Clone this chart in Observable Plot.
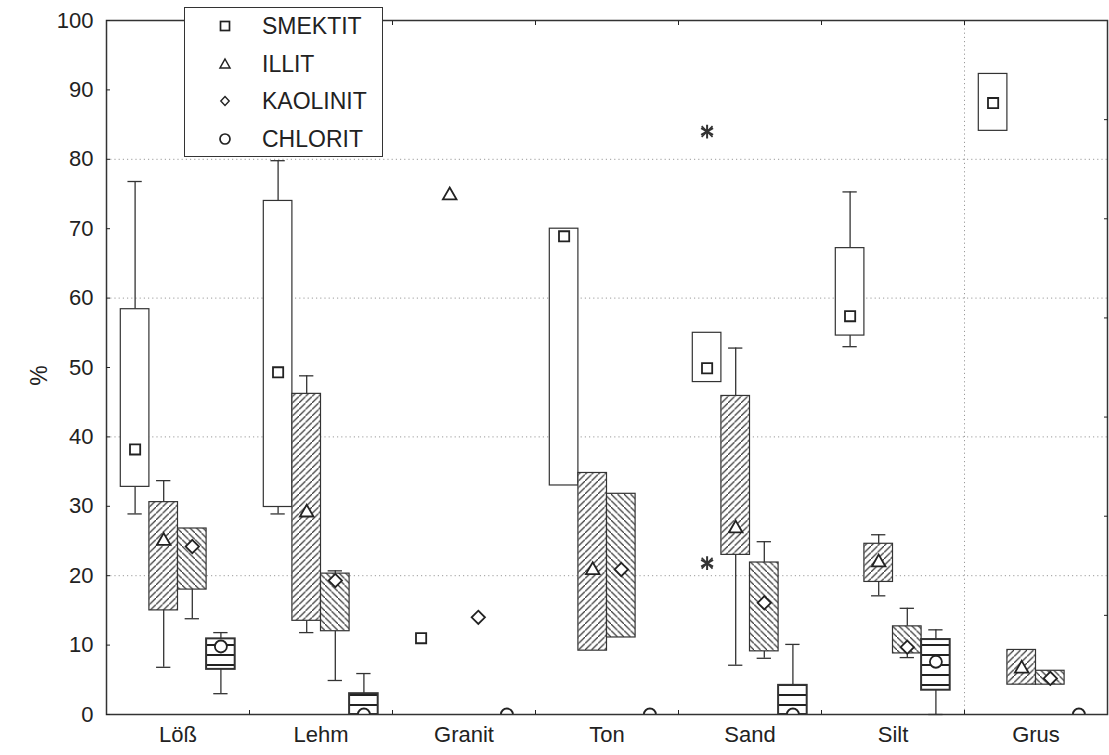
<!DOCTYPE html>
<html>
<head>
<meta charset="utf-8">
<script src="https://cdn.jsdelivr.net/npm/d3@7"></script>
<script src="https://cdn.jsdelivr.net/npm/@observablehq/plot@0.6"></script>
<style>
  body { margin: 0; background: #fff; font-family: "Liberation Sans", Arial, sans-serif; }
  #wrap { position: relative; width: 1109px; height: 755px; overflow: hidden; }
  #legend { position: absolute; left: 184px; top: 7px; width: 199px; height: 150px; background: #fff;
            border: 1.5px solid #333; box-sizing: border-box; }
  #legend .row { position: absolute; left: 0; height: 30px; display: flex; align-items: center; }
  #legend .sym { position: absolute; left: 31px; width: 18px; height: 18px; }
  #legend .lab { position: absolute; left: 77px; font-size: 23px; color: #222; white-space: nowrap; line-height: 30px; }
  #ylab { position: absolute; left: 26px; top: 362px; font-size: 23px; color: #222; transform: rotate(-90deg); transform-origin: center; width: 26px; text-align: center; }
</style>
</head>
<body>
<svg width="0" height="0" style="position:absolute">
  <defs>
    <pattern id="pIllit" patternUnits="userSpaceOnUse" width="6.5" height="6.5">
      <rect width="6.5" height="6.5" fill="#fff"/>
      <path d="M-1,7.5 L7.5,-1 M-4,3.25 L3.25,-4 M3.25,10.5 L10.5,3.25" stroke="#333" stroke-width="1.2"/>
    </pattern>
    <pattern id="pKaol" patternUnits="userSpaceOnUse" width="6.5" height="6.5">
      <rect width="6.5" height="6.5" fill="#fff"/>
      <path d="M-1,-1 L7.5,7.5 M-4,3.25 L3.25,10.5 M3.25,-4 L10.5,3.25" stroke="#333" stroke-width="1.2"/>
    </pattern>
    <pattern id="pChlo" patternUnits="userSpaceOnUse" width="10" height="10">
      <rect width="10" height="10" fill="#fff"/>
      <path d="M0,5 L10,5" stroke="#222" stroke-width="2"/>
    </pattern>
  </defs>
</svg>
<div id="wrap">
  <div id="chart"></div>
  <div id="ylab">%</div>
  <div id="legend"></div>
</div>
<script>
// ---- data ----
const categories = ["Löß", "Lehm", "Granit", "Ton", "Sand", "Silt", "Grus"];
const minerals = ["SMEKTIT", "ILLIT", "KAOLINIT", "CHLORIT"];
const yTicks = [0, 10, 20, 30, 40, 50, 60, 70, 80, 90, 100];

// SMEKTIT
const smektitMid = [38.2, 49.3, 11.0, 68.9, 49.9, 57.4, 88.1];
const smektitLo  = [32.8, 29.9, null, 33.0, 47.9, 54.6, 84.1];
const smektitHi  = [58.4, 74.0, null, 70.0, 55.0, 67.2, 92.3];
const smektitMin = [28.9, 28.9, null, null, null, 53.0, null];
const smektitMax = [76.8, 79.8, null, null, null, 75.3, null];
// ILLIT
const illitMid = [25.0, 29.1, 74.8, 20.8, 26.8, 21.9, 6.6];
const illitLo  = [15.0, 13.5, null, 9.2, 23.0, 19.1, 4.3];
const illitHi  = [30.6, 46.2, null, 34.8, 45.9, 24.6, 9.3];
const illitMin = [6.8, 11.8, null, null, 7.1, 17.1, null];
const illitMax = [33.7, 48.8, null, null, 52.8, 25.9, null];
// KAOLINIT
const kaolMid = [24.2, 19.3, 14.0, 20.9, 16.1, 9.7, 5.2];
const kaolLo  = [18.0, 12.0, null, 11.1, 9.1, 8.8, 4.3];
const kaolHi  = [26.8, 20.3, null, 31.8, 21.9, 12.7, 6.3];
const kaolMin = [13.8, 4.9, null, null, 8.1, 8.2, null];
const kaolMax = [null, 20.7, null, null, 24.9, 15.3, null];
// CHLORIT
const chloMid = [9.8, 0.0, 0.0, 0.0, 0.0, 7.6, 0.0];
const chloLo  = [6.5, 0.0, null, null, 0.0, 3.5, null];
const chloHi  = [10.9, 3.0, null, null, 4.2, 10.8, null];
const chloMin = [3.0, null, null, null, null, 0.0, null];
const chloMax = [11.8, 5.9, null, null, 10.1, 12.2, null];
// outliers (Sand, SMEKTIT)
const outlierCat = ["Sand", "Sand"];
const outlierVal = [84.0, 21.8];

// ---- build table ----
const series = [
  {m: "SMEKTIT", mid: smektitMid, lo: smektitLo, hi: smektitHi, min: smektitMin, max: smektitMax, fill: "#fff", symbol: "square2", r: 6.5, sw: 1.2},
  {m: "ILLIT", mid: illitMid, lo: illitLo, hi: illitHi, min: illitMin, max: illitMax, fill: "url(#pIllit)", symbol: "triangle2", r: 6.5, sw: 1.2},
  {m: "KAOLINIT", mid: kaolMid, lo: kaolLo, hi: kaolHi, min: kaolMin, max: kaolMax, fill: "url(#pKaol)", symbol: "diamond2", r: 6, sw: 1.2},
  {m: "CHLORIT", mid: chloMid, lo: chloLo, hi: chloHi, min: chloMin, max: chloMax, fill: "url(#pChlo)", symbol: "circle", r: 6, sw: 2}
];
const nM = minerals.length;
const groupPad = 0.1;                 // fraction of band left empty on each side
const bw = (1 - 2 * groupPad) / nM;   // box width in band units
function rowsFor(s) {
  const j = minerals.indexOf(s.m);
  return categories.map((c, i) => {
    const x1 = i + groupPad + j * bw;
    return {cat: c, mineral: s.m, x1, x2: x1 + bw, xc: x1 + bw / 2,
            mid: s.mid[i], lo: s.lo[i], hi: s.hi[i], min: s.min[i], max: s.max[i]};
  });
}

const marks = [
  Plot.gridY([20, 40, 60, 80], {stroke: "#9a9a9a", strokeOpacity: 1, strokeDasharray: "1.2,3"}),
  Plot.gridX([6], {stroke: "#9a9a9a", strokeOpacity: 1, strokeDasharray: "1.2,3"})
];
for (const s of series) {
  const rows = rowsFor(s);
  const boxes = rows.filter(d => d.lo != null);
  const wUp = rows.filter(d => d.max != null);
  const wDn = rows.filter(d => d.min != null);
  marks.push(
    Plot.ruleX(wUp, {x: "xc", y1: "hi", y2: "max", stroke: "#333", strokeWidth: 1.3}),
    Plot.ruleX(wDn, {x: "xc", y1: "lo", y2: "min", stroke: "#333", strokeWidth: 1.3}),
    Plot.ruleY(wUp, {y: "max", x1: d => d.xc - bw / 4, x2: d => d.xc + bw / 4, stroke: "#333", strokeWidth: 1.3}),
    Plot.ruleY(wDn, {y: "min", x1: d => d.xc - bw / 4, x2: d => d.xc + bw / 4, stroke: "#333", strokeWidth: 1.3}),
    Plot.rect(boxes, {x1: "x1", x2: "x2", y1: "lo", y2: "hi", fill: s.fill, stroke: "#333", strokeWidth: s.sw}),
    Plot.dot(rows, {x: "xc", y: "mid", symbol: () => s.symbol, r: s.r, fill: "#fff", stroke: "#222", strokeWidth: 1.8, clip: true})
  );
}
const jS = minerals.indexOf("SMEKTIT");
const outliers = outlierCat.map((c, k) => ({xc: categories.indexOf(c) + groupPad + jS * bw + bw / 2, v: outlierVal[k]}));
marks.push(
  Plot.dot(outliers, {x: "xc", y: "v", symbol: "asterisk", r: 6.5, stroke: "#333", strokeWidth: 2}),
  Plot.dot(outliers, {x: "xc", y: "v", symbol: "times", r: 5, stroke: "#333", strokeWidth: 1.6}),
  Plot.frame({stroke: "#333", strokeWidth: 1.5}),
  Plot.axisY({anchor: "left", ticks: yTicks, tickSize: -4, tickPadding: 17, label: null, fontSize: 22}),
  Plot.axisY({anchor: "right", ticks: d3.range(1, 7).map(k => 100 * k / 7), tickSize: -4, tickFormat: () => "", label: null}),
  Plot.axisX({anchor: "bottom", ticks: d3.range(1, 7), tickSize: -4, tickFormat: () => "", label: null}),
  Plot.axisX({anchor: "top", ticks: d3.range(1, 7), tickSize: -4, tickFormat: () => "", label: null}),
  Plot.axisX({anchor: "bottom", ticks: categories.map((c, i) => i + 0.5), tickSize: 0, tickPadding: 12,
              tickFormat: d => categories[Math.floor(d)], label: null, fontSize: 22})
);

const chart = Plot.plot({
  width: 1109, height: 755,
  marginLeft: 106, marginRight: 2, marginTop: 20, marginBottom: 41,
  x: {domain: [0, categories.length]},
  y: {domain: [0, 100]},
  style: {fontFamily: "'Liberation Sans', Arial, sans-serif", fontSize: "22px", color: "#222", background: "transparent"},
  marks
});
document.getElementById("chart").append(chart);

// ---- legend ----
const legend = document.getElementById("legend");
const symSvg = {
  SMEKTIT: '<rect x="4.5" y="4.5" width="9" height="9" fill="#fff" stroke="#222" stroke-width="1.7"/>',
  ILLIT: '<path d="M9,4 L14,13 L4,13 Z" fill="#fff" stroke="#222" stroke-width="1.5"/>',
  KAOLINIT: '<path d="M9,4.5 L13.2,9 L9,13.5 L4.8,9 Z" fill="#fff" stroke="#222" stroke-width="1.4"/>',
  CHLORIT: '<circle cx="9" cy="9" r="5" fill="#fff" stroke="#222" stroke-width="1.7"/>'
};
minerals.forEach((m, k) => {
  const row = document.createElement("div");
  row.className = "row";
  row.style.top = (3 + k * 37.5) + "px";
  row.innerHTML = `<svg class="sym" viewBox="0 0 18 18">${symSvg[m]}</svg><span class="lab">${m}</span>`;
  legend.append(row);
});
</script>
</body>
</html>
